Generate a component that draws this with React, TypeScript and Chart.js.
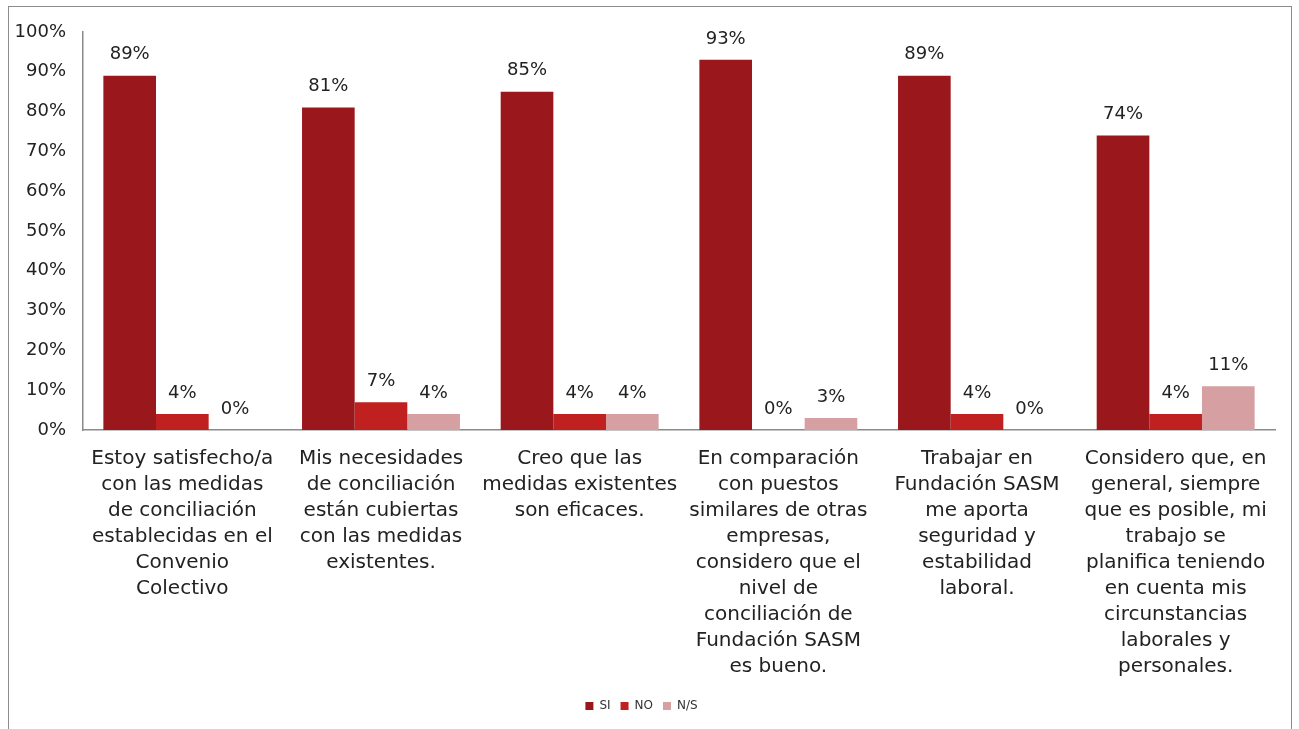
import React, { useEffect, useRef } from "react";
import { Chart, registerables } from "chart.js";

Chart.register(...registerables);

const categories: string[][] = [
  ["Estoy satisfecho/a", "con las medidas", "de conciliación", "establecidas en el", "Convenio", "Colectivo"],
  ["Mis necesidades", "de conciliación", "están cubiertas", "con las medidas", "existentes."],
  ["Creo que las", "medidas existentes", "son eficaces."],
  ["En comparación", "con puestos", "similares de otras", "empresas,", "considero que el", "nivel de", "conciliación de", "Fundación SASM", "es bueno."],
  ["Trabajar en", "Fundación SASM", "me aporta", "seguridad y", "estabilidad", "laboral."],
  ["Considero que, en", "general, siempre", "que es posible, mi", "trabajo se", "planifica teniendo", "en cuenta mis", "circunstancias", "laborales y", "personales."],
];

const siValues = [89, 81, 85, 93, 89, 74];
const noValues = [4, 7, 4, 0, 4, 4];
const nsValues = [0, 4, 4, 3, 0, 11];

const FONT = "'DejaVu Sans', sans-serif";
const TEXT = "#222222";
const PAD_BOTTOM = 7;

const valueLabels = {
  id: "valueLabels",
  afterDatasetsDraw(chart: any) {
    const ctx = chart.ctx;
    ctx.save();
    ctx.font = `18px ${FONT}`;
    ctx.fillStyle = TEXT;
    ctx.textAlign = "center";
    ctx.textBaseline = "middle";
    chart.data.datasets.forEach((ds: any, i: number) => {
      const meta = chart.getDatasetMeta(i);
      meta.data.forEach((el: any, j: number) => {
        ctx.fillText(`${ds.data[j]}%`, el.x, el.y - 21);
      });
    });
    ctx.restore();
  },
};

export default function App() {
  const ref = useRef<HTMLCanvasElement>(null);
  useEffect(() => {
    if (!ref.current) return;
    const chart = new Chart(ref.current, {
      type: "bar",
      data: {
        labels: categories,
        datasets: [
          { label: "SI", data: siValues, backgroundColor: "#9A181C" },
          { label: "NO", data: noValues, backgroundColor: "#C0201F" },
          { label: "N/S", data: nsValues, backgroundColor: "#D6A0A2" },
        ],
      },
      options: {
        animation: false,
        responsive: false,
        maintainAspectRatio: false,
        layout: { padding: { left: 8, right: 24, top: 32, bottom: PAD_BOTTOM } },
        datasets: { bar: { categoryPercentage: 0.795, barPercentage: 1 } },
        plugins: {
          legend: {
            position: "bottom",
            labels: {
              boxWidth: 8,
              boxHeight: 8,
              padding: 10,
              color: "#333333",
              font: { size: 12, family: FONT },
            },
          },
          tooltip: { enabled: false },
        },
        scales: {
          x: {
            grid: { display: false, drawTicks: false },
            border: { display: true, color: "#8a8a8a", width: 1.5 },
            ticks: {
              color: TEXT,
              padding: 16,
              maxRotation: 0,
              autoSkip: false,
              font: { size: 20, family: FONT, lineHeight: 26 / 20 },
            },
            afterFit: (scale: any) => {
              const lh = scale.chart.legend ? scale.chart.legend.height : 0;
              scale.height = scale.chart.height - 430 - PAD_BOTTOM - lh;
            },
          },
          y: {
            min: 0,
            max: 100,
            grid: { display: false, drawTicks: false },
            border: { display: true, color: "#8a8a8a", width: 1.5 },
            ticks: {
              stepSize: 10,
              color: TEXT,
              padding: 17,
              font: { size: 18, family: FONT },
              callback: (v: any) => `${v}%`,
            },
            afterFit: (scale: any) => {
              scale.width = 75;
            },
          },
        },
      },
      plugins: [valueLabels],
    });
    return () => chart.destroy();
  }, []);

  return (
    <div style={{ position: "fixed", left: 0, top: 0, width: 1299, height: 729, overflow: "hidden", background: "#fff" }}>
      <div
        style={{
          position: "absolute",
          left: 8,
          top: 6,
          width: 1284,
          height: 800,
          border: "1.5px solid #8c8c8c",
          boxSizing: "border-box",
        }}
      />
      <canvas ref={ref} width={1299} height={729} style={{ position: "absolute", left: 0, top: 0 }} />
    </div>
  );
}
